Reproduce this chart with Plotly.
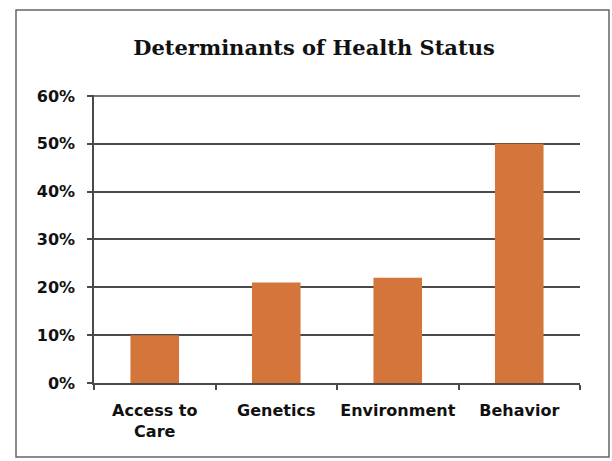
import plotly.graph_objects as go

categories = ["Access to<br>Care", "Genetics", "Environment", "Behavior"]
values = [10, 21, 22, 50]
y_ticks = [0, 10, 20, 30, 40, 50, 60]
y_tick_labels = ["0%", "10%", "20%", "30%", "40%", "50%", "60%"]

W, H = 612, 461
L, R, T, B = 94, 32, 95, 78
pw, ph = W - L - R, H - T - B
y_top = 60.2
grid_color = "#4a4a4a"

fig = go.Figure()
fig.add_trace(go.Bar(
    x=categories, y=values,
    marker=dict(color="#d4763b", line=dict(width=0)),
    width=0.4,
))

tickfont = dict(family="DejaVu Sans", size=16, color="#111111", weight="bold")

fig.update_layout(
    width=W, height=H,
    margin=dict(l=L, r=R, t=T, b=B, autoexpand=False),
    paper_bgcolor="white", plot_bgcolor="white",
    showlegend=False,
    title=dict(
        text="Determinants of Health Status",
        font=dict(family="DejaVu Serif", size=21, color="#111111", weight="bold"),
        x=314 / W, xanchor="center",
        y=1 - 48 / H, yanchor="middle",
        xref="container", yref="container",
    ),
    xaxis=dict(
        showline=True, linecolor=grid_color, linewidth=1.5,
        ticks="outside", tickson="boundaries", ticklen=5,
        tickcolor=grid_color, tickwidth=1.5,
        tickfont=tickfont, ticklabelstandoff=12, tickangle=0,
        showgrid=False, fixedrange=True,
    ),
    yaxis=dict(
        range=[0, y_top], tickvals=y_ticks, ticktext=y_tick_labels,
        showline=True, linecolor=grid_color, linewidth=1.5,
        ticks="outside", ticklen=5, tickcolor=grid_color, tickwidth=1.5,
        showgrid=True, gridcolor=grid_color, gridwidth=1.5,
        zeroline=False, fixedrange=True,
        tickfont=tickfont, ticklabelstandoff=9,
    ),
    shapes=[
        dict(
            type="rect", xref="paper", yref="paper",
            x0=(16 - L) / pw, x1=(609 - L) / pw,
            y0=(H - B - 457) / ph, y1=(H - B - 10) / ph,
            line=dict(color="#666666", width=1.5), fillcolor="rgba(0,0,0,0)",
            layer="below",
        ),
        # top gridline (at the last tick), which plotly drops near the edge
        dict(
            type="line", xref="paper", yref="y",
            x0=0, x1=1, y0=y_ticks[-1], y1=y_ticks[-1],
            line=dict(color=grid_color, width=1.5),
            layer="below",
        ),
    ],
)

fig.write_html(
    "out.html",
    config={"displayModeBar": False},
    post_script="document.body.style.margin='0';document.body.style.padding='0';",
)
